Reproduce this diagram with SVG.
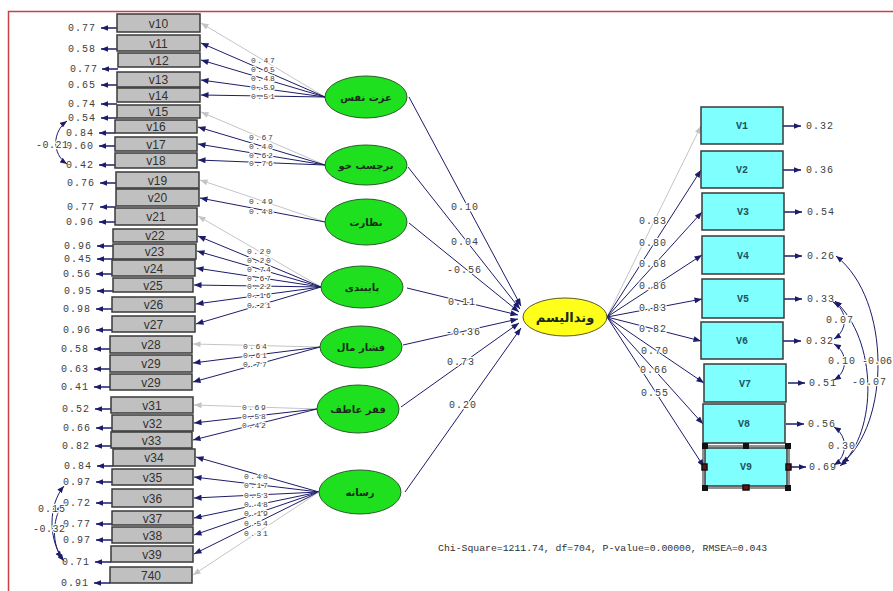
<svg xmlns="http://www.w3.org/2000/svg" width="893" height="591" viewBox="0 0 893 591">
<style>
.bg{fill:#fff}
.frame{stroke:#c8404a;stroke-width:1.5;fill:none}
.box{fill:#c0c0c0;stroke:#3a3a3a;stroke-width:1.5}
.vbox{fill:#80ffff;stroke:#3a3a3a;stroke-width:1.5}
.lat{fill:#1fe01f;stroke:#2d5a2d;stroke-width:1}
.dep{fill:#ffff1a;stroke:#5a5a20;stroke-width:1}
.bt{font-family:"Liberation Sans",Arial,sans-serif;font-size:12px;fill:#303030;text-anchor:middle}
.vt{font-family:"Liberation Mono","Courier New",monospace;font-size:10px;font-weight:bold;fill:#1f5560;text-anchor:middle}
.lt{font-family:"DejaVu Sans","Noto Sans",sans-serif;font-size:10px;font-weight:bold;fill:#1a2a1a;text-anchor:middle}
.num{font-family:"Liberation Mono","Courier New",monospace;font-size:10px;letter-spacing:1px;fill:#404040}
.sm{font-size:8px;letter-spacing:1.5px}
.halo{paint-order:stroke;stroke:#fff;stroke-width:2.5px;stroke-linejoin:round}
.ln{stroke:#1c1c6a;stroke-width:1;fill:none;marker-end:url(#ah)}
.gl{stroke:#c4c4c4;stroke-width:1;fill:none;marker-end:url(#ahg)}
.er{stroke:#1c1c6a;stroke-width:1.5;fill:none;marker-end:url(#ahs)}
.cv{stroke:#1c1c6a;stroke-width:1;fill:none;marker-start:url(#ahs2);marker-end:url(#ahs)}
.fit{font-family:"Liberation Mono","Courier New",monospace;font-size:9.8px;fill:#303030}
.hd{fill:#111}
.hdr{fill:#6a1010;stroke:#111;stroke-width:1.5}
</style>
<defs>
<marker id="ah" viewBox="0 0 10 8" refX="10" refY="4" markerWidth="9" markerHeight="6" markerUnits="userSpaceOnUse" orient="auto"><path d="M0,0 L10,4 L0,8 z" fill="#1c1c6a"/></marker>
<marker id="ahg" viewBox="0 0 10 8" refX="10" refY="4" markerWidth="9" markerHeight="6" markerUnits="userSpaceOnUse" orient="auto"><path d="M0,0 L10,4 L0,8 z" fill="#c4c4c4"/></marker>
<marker id="ahs" viewBox="0 0 10 8" refX="10" refY="4" markerWidth="7" markerHeight="6" markerUnits="userSpaceOnUse" orient="auto"><path d="M0,0 L10,4 L0,8 z" fill="#1c1c6a"/></marker>
<marker id="ahs2" viewBox="0 0 10 8" refX="0" refY="4" markerWidth="7" markerHeight="6" markerUnits="userSpaceOnUse" orient="auto"><path d="M10,0 L0,4 L10,8 z" fill="#1c1c6a"/></marker>
</defs>
<rect class="bg" x="0" y="0" width="893" height="591"/>
<path class="frame" d="M8.5,591 V11.5 H893"/>

<g id="connectors">
<line class="gl" x1="325" y1="97" x2="201" y2="23"/>
<line class="ln" x1="325" y1="97" x2="201" y2="43"/>
<line class="ln" x1="325" y1="97" x2="201" y2="60"/>
<line class="ln" x1="325" y1="97" x2="201" y2="80"/>
<line class="ln" x1="325" y1="97" x2="201" y2="95"/>
<line class="gl" x1="325" y1="165" x2="201" y2="112"/>
<line class="ln" x1="325" y1="165" x2="198" y2="127"/>
<line class="ln" x1="325" y1="165" x2="198" y2="144"/>
<line class="ln" x1="325" y1="165" x2="198" y2="160"/>
<line class="gl" x1="325" y1="222" x2="200" y2="180"/>
<line class="ln" x1="325" y1="222" x2="200" y2="198"/>
<line class="gl" x1="321" y1="287" x2="198" y2="216"/>
<line class="ln" x1="321" y1="287" x2="198" y2="236"/>
<line class="ln" x1="321" y1="287" x2="197" y2="251"/>
<line class="ln" x1="321" y1="287" x2="196" y2="268"/>
<line class="ln" x1="321" y1="287" x2="194" y2="285"/>
<line class="ln" x1="321" y1="287" x2="196" y2="304"/>
<line class="ln" x1="321" y1="287" x2="196" y2="324"/>
<line class="gl" x1="320" y1="347" x2="193" y2="344"/>
<line class="ln" x1="320" y1="347" x2="193" y2="363"/>
<line class="ln" x1="320" y1="347" x2="193" y2="382"/>
<line class="gl" x1="317" y1="409" x2="194" y2="405"/>
<line class="ln" x1="317" y1="409" x2="194" y2="423"/>
<line class="ln" x1="317" y1="409" x2="193" y2="440"/>
<line class="ln" x1="319" y1="492" x2="196" y2="457"/>
<line class="ln" x1="319" y1="492" x2="194" y2="477"/>
<line class="ln" x1="319" y1="492" x2="194" y2="498"/>
<line class="ln" x1="319" y1="492" x2="194" y2="518"/>
<line class="ln" x1="319" y1="492" x2="194" y2="535"/>
<line class="ln" x1="319" y1="492" x2="194" y2="554"/>
<line class="gl" x1="319" y1="492" x2="193" y2="575"/>
<line class="ln" x1="409" y1="97" x2="521" y2="306"/>
<line class="ln" x1="408" y1="167" x2="520" y2="309"/>
<line class="ln" x1="409" y1="223" x2="519" y2="312"/>
<line class="ln" x1="407" y1="288" x2="518" y2="315"/>
<line class="ln" x1="403" y1="345" x2="518" y2="319"/>
<line class="ln" x1="401" y1="407" x2="519" y2="323"/>
<line class="ln" x1="405" y1="492" x2="521" y2="328"/>
<line class="gl" x1="607" y1="317" x2="701" y2="126"/>
<line class="ln" x1="607" y1="317" x2="701" y2="170"/>
<line class="ln" x1="607" y1="317" x2="702" y2="212"/>
<line class="ln" x1="607" y1="317" x2="702" y2="255"/>
<line class="ln" x1="607" y1="317" x2="702" y2="299"/>
<line class="ln" x1="607" y1="317" x2="701" y2="341"/>
<line class="ln" x1="607" y1="317" x2="704" y2="383"/>
<line class="ln" x1="607" y1="317" x2="703" y2="424"/>
<line class="ln" x1="607" y1="317" x2="704" y2="467"/>
<line class="er" x1="117" y1="28" x2="101" y2="28"/>
<line class="er" x1="117" y1="49" x2="101" y2="49"/>
<line class="er" x1="118" y1="69" x2="102" y2="69"/>
<line class="er" x1="117" y1="85" x2="101" y2="85"/>
<line class="er" x1="117" y1="104" x2="101" y2="104"/>
<line class="er" x1="117" y1="118" x2="101" y2="118"/>
<line class="er" x1="115" y1="133" x2="99" y2="133"/>
<line class="er" x1="115" y1="146" x2="99" y2="146"/>
<line class="er" x1="115" y1="165" x2="99" y2="165"/>
<line class="er" x1="116" y1="183" x2="100" y2="183"/>
<line class="er" x1="116" y1="207" x2="100" y2="207"/>
<line class="er" x1="115" y1="222" x2="99" y2="222"/>
<line class="er" x1="113" y1="246" x2="97" y2="246"/>
<line class="er" x1="113" y1="259" x2="97" y2="259"/>
<line class="er" x1="112" y1="274" x2="96" y2="274"/>
<line class="er" x1="113" y1="291" x2="97" y2="291"/>
<line class="er" x1="112" y1="309" x2="96" y2="309"/>
<line class="er" x1="112" y1="330" x2="96" y2="330"/>
<line class="er" x1="110" y1="349" x2="94" y2="349"/>
<line class="er" x1="110" y1="369" x2="94" y2="369"/>
<line class="er" x1="110" y1="387" x2="94" y2="387"/>
<line class="er" x1="111" y1="409" x2="95" y2="409"/>
<line class="er" x1="112" y1="428" x2="96" y2="428"/>
<line class="er" x1="111" y1="446" x2="95" y2="446"/>
<line class="er" x1="113" y1="466" x2="97" y2="466"/>
<line class="er" x1="112" y1="482" x2="96" y2="482"/>
<line class="er" x1="112" y1="503" x2="96" y2="503"/>
<line class="er" x1="112" y1="524" x2="96" y2="524"/>
<line class="er" x1="112" y1="540" x2="96" y2="540"/>
<line class="er" x1="111" y1="562" x2="95" y2="562"/>
<line class="er" x1="110" y1="583" x2="94" y2="583"/>
<line class="er" x1="783" y1="126" x2="801" y2="126"/>
<line class="er" x1="783" y1="170" x2="801" y2="170"/>
<line class="er" x1="784" y1="212" x2="802" y2="212"/>
<line class="er" x1="784" y1="256" x2="802" y2="256"/>
<line class="er" x1="784" y1="299" x2="802" y2="299"/>
<line class="er" x1="783" y1="341" x2="801" y2="341"/>
<line class="er" x1="788" y1="383" x2="805" y2="383"/>
<line class="er" x1="786" y1="424" x2="804" y2="424"/>
<line class="er" x1="789" y1="467" x2="806" y2="467"/>
<path class="cv" d="M67,121 C52,132 52,154 67,164"/>
<path class="cv" d="M64,486 C48,505 48,540 64,561"/>
<path class="cv" d="M62,505 C52,520 52,545 62,558"/>
<path class="cv" d="M833,302 C848,310 848,330 834,339"/>
<path class="cv" d="M834,344 C848,352 848,372 834,380"/>
<path class="cv" d="M834,427 C848,436 848,456 834,465"/>
<path class="cv" d="M836,256 C892,300 890,425 842,463"/>
<path class="cv" d="M835,301 C878,340 878,432 840,466"/>
</g>

<g id="labels">
<text class="num sm halo" x="251" y="63">0.47</text>
<text class="num sm halo" x="251" y="72">0.65</text>
<text class="num sm halo" x="251" y="81">0.48</text>
<text class="num sm halo" x="251" y="90">0.59</text>
<text class="num sm halo" x="251" y="99">0.51</text>
<text class="num sm halo" x="249" y="140">0.67</text>
<text class="num sm halo" x="249" y="148.5">0.40</text>
<text class="num sm halo" x="249" y="157.5">0.62</text>
<text class="num sm halo" x="249" y="166">0.76</text>
<text class="num sm halo" x="249" y="204">0.49</text>
<text class="num sm halo" x="249" y="214">0.48</text>
<text class="num sm halo" x="247" y="254">0.20</text>
<text class="num sm halo" x="247" y="263">0.20</text>
<text class="num sm halo" x="247" y="271.5">0.74</text>
<text class="num sm halo" x="247" y="280.5">0.67</text>
<text class="num sm halo" x="247" y="289">0.22</text>
<text class="num sm halo" x="247" y="298">0.16</text>
<text class="num sm halo" x="247" y="308">0.21</text>
<text class="num sm halo" x="243" y="349">0.64</text>
<text class="num sm halo" x="243" y="358">0.61</text>
<text class="num sm halo" x="243" y="367">0.77</text>
<text class="num sm halo" x="242" y="410">0.69</text>
<text class="num sm halo" x="242" y="419">0.58</text>
<text class="num sm halo" x="242" y="428">0.42</text>
<text class="num sm halo" x="244" y="479">0.40</text>
<text class="num sm halo" x="244" y="488">0.17</text>
<text class="num sm halo" x="244" y="498">0.53</text>
<text class="num sm halo" x="244" y="507">0.48</text>
<text class="num sm halo" x="244" y="516">0.19</text>
<text class="num sm halo" x="244" y="526">0.54</text>
<text class="num sm halo" x="244" y="536">0.31</text>
<text class="num halo" x="451" y="210">0.10</text>
<text class="num halo" x="451" y="245">0.04</text>
<text class="num halo" x="447" y="273">-0.56</text>
<text class="num halo" x="448" y="305">0.11</text>
<text class="num halo" x="446" y="335">-0.36</text>
<text class="num halo" x="447" y="365">0.73</text>
<text class="num halo" x="449" y="408">0.20</text>
<text class="num halo" x="639" y="224">0.83</text>
<text class="num halo" x="639" y="246">0.80</text>
<text class="num halo" x="639" y="267">0.68</text>
<text class="num halo" x="639" y="289">0.86</text>
<text class="num halo" x="639" y="311">0.83</text>
<text class="num halo" x="639" y="332">0.82</text>
<text class="num halo" x="641" y="354">0.70</text>
<text class="num halo" x="640" y="373">0.66</text>
<text class="num halo" x="641" y="396">0.55</text>
<g class="num" text-anchor="end">
<text x="96" y="31">0.77</text>
<text x="96" y="52">0.58</text>
<text x="98" y="72">0.77</text>
<text x="96" y="88">0.65</text>
<text x="96" y="107">0.74</text>
<text x="96" y="121">0.54</text>
<text x="94" y="136">0.84</text>
<text x="94" y="149">0.60</text>
<text x="94" y="168">0.42</text>
<text x="95" y="186">0.76</text>
<text x="95" y="210">0.77</text>
<text x="94" y="225">0.96</text>
<text x="92" y="249">0.96</text>
<text x="92" y="262">0.45</text>
<text x="91" y="277">0.56</text>
<text x="92" y="294">0.95</text>
<text x="91" y="312">0.98</text>
<text x="91" y="333">0.96</text>
<text x="89" y="352">0.58</text>
<text x="89" y="372">0.63</text>
<text x="89" y="390">0.41</text>
<text x="90" y="412">0.52</text>
<text x="91" y="431">0.66</text>
<text x="90" y="449">0.82</text>
<text x="92" y="469">0.84</text>
<text x="91" y="485">0.97</text>
<text x="91" y="506">0.72</text>
<text x="91" y="527">0.77</text>
<text x="91" y="543">0.97</text>
<text x="90" y="565">0.71</text>
<text x="89" y="586">0.91</text>
</g>
<g class="num">
<text x="806" y="129">0.32</text>
<text x="806" y="173">0.36</text>
<text x="807" y="215">0.54</text>
<text x="807" y="259">0.26</text>
<text x="807" y="302">0.33</text>
<text x="806" y="344">0.32</text>
<text x="809" y="386">0.51</text>
<text x="808" y="427">0.56</text>
<text x="809" y="470">0.69</text>
</g>
<text class="num halo" x="36" y="148" style="letter-spacing:0.5px">-0.21</text>
<text class="num halo" x="38" y="512">0.15</text>
<text class="num halo" x="33" y="532" style="letter-spacing:0.5px">-0.32</text>
<text class="num halo" x="826" y="323">0.07</text>
<text class="num halo" x="828" y="364">0.10</text>
<text class="num halo" x="862" y="364" style="letter-spacing:0">-0.06</text>
<text class="num halo" x="852" y="385">-0.07</text>
<text class="num halo" x="828" y="449">0.30</text>
<text class="fit" x="438" y="551">Chi-Square=1211.74, df=704, P-value=0.00000, RMSEA=0.043</text>
</g>

<g id="v10"><rect class="box" x="117" y="14" width="83" height="18"/><text class="bt" x="158.5" y="27.5">v10</text></g>
<g id="v11"><rect class="box" x="117" y="35" width="83" height="16"/><text class="bt" x="158.5" y="47.5">v11</text></g>
<g id="v12"><rect class="box" x="118" y="53" width="82" height="14"/><text class="bt" x="159" y="64.5">v12</text></g>
<g id="v13"><rect class="box" x="117" y="72" width="83" height="15"/><text class="bt" x="158.5" y="84">v13</text></g>
<g id="v14"><rect class="box" x="117" y="88" width="83" height="14"/><text class="bt" x="158.5" y="99.5">v14</text></g>
<g id="v15"><rect class="box" x="117" y="105" width="83" height="13"/><text class="bt" x="158.5" y="116">v15</text></g>
<g id="v16"><rect class="box" x="115" y="120" width="82" height="13"/><text class="bt" x="156" y="131">v16</text></g>
<g id="v17"><rect class="box" x="115" y="137" width="82" height="14"/><text class="bt" x="156" y="148.5">v17</text></g>
<g id="v18"><rect class="box" x="115" y="153" width="82" height="15"/><text class="bt" x="156" y="165">v18</text></g>
<g id="v19"><rect class="box" x="116" y="172" width="83" height="16"/><text class="bt" x="157.5" y="184.5">v19</text></g>
<g id="v20"><rect class="box" x="116" y="189" width="83" height="17"/><text class="bt" x="157.5" y="202">v20</text></g>
<g id="v21"><rect class="box" x="115" y="208" width="82" height="17"/><text class="bt" x="156" y="221">v21</text></g>
<g id="v22"><rect class="box" x="113" y="229" width="84" height="13"/><text class="bt" x="155" y="240">v22</text></g>
<g id="v23"><rect class="box" x="113" y="244" width="83" height="15"/><text class="bt" x="154.5" y="256">v23</text></g>
<g id="v24"><rect class="box" x="112" y="260" width="83" height="16"/><text class="bt" x="153.5" y="272.5">v24</text></g>
<g id="v25"><rect class="box" x="113" y="278" width="80" height="14"/><text class="bt" x="153" y="289.5">v25</text></g>
<g id="v26"><rect class="box" x="112" y="297" width="83" height="15"/><text class="bt" x="153.5" y="309">v26</text></g>
<g id="v27"><rect class="box" x="112" y="316" width="83" height="16"/><text class="bt" x="153.5" y="328.5">v27</text></g>
<g id="v28"><rect class="box" x="110" y="336" width="82" height="17"/><text class="bt" x="151" y="349">v28</text></g>
<g id="v29"><rect class="box" x="110" y="355" width="82" height="17"/><text class="bt" x="151" y="368">v29</text></g>
<g id="v29b"><rect class="box" x="110" y="374" width="82" height="16"/><text class="bt" x="151" y="386.5">v29</text></g>
<g id="v31"><rect class="box" x="111" y="397" width="82" height="16"/><text class="bt" x="152" y="409.5">v31</text></g>
<g id="v32"><rect class="box" x="112" y="415" width="81" height="16"/><text class="bt" x="152.5" y="427.5">v32</text></g>
<g id="v33"><rect class="box" x="111" y="432" width="81" height="16"/><text class="bt" x="151.5" y="444.5">v33</text></g>
<g id="v34"><rect class="box" x="113" y="449" width="82" height="17"/><text class="bt" x="154" y="462">v34</text></g>
<g id="v35"><rect class="box" x="112" y="469" width="81" height="16"/><text class="bt" x="152.5" y="481.5">v35</text></g>
<g id="v36"><rect class="box" x="112" y="489" width="81" height="18"/><text class="bt" x="152.5" y="502.5">v36</text></g>
<g id="v37"><rect class="box" x="112" y="511" width="81" height="14"/><text class="bt" x="152.5" y="522.5">v37</text></g>
<g id="v38"><rect class="box" x="112" y="527" width="81" height="16"/><text class="bt" x="152.5" y="539.5">v38</text></g>
<g id="v39"><rect class="box" x="111" y="546" width="82" height="16"/><text class="bt" x="152" y="558.5">v39</text></g>
<g id="v740"><rect class="box" x="110" y="567" width="82" height="16"/><text class="bt" x="151" y="579.5">740</text></g>

<g id="L1"><ellipse class="lat" cx="366" cy="97" rx="41" ry="21"/><text class="lt" x="366" y="101">عزت نفس</text></g>
<g id="L2"><ellipse class="lat" cx="366" cy="165" rx="41" ry="20"/><text class="lt" x="366" y="169">برچسب خو</text></g>
<g id="L3"><ellipse class="lat" cx="366" cy="222" rx="41" ry="23"/><text class="lt" x="366" y="226">نظارت</text></g>
<g id="L4"><ellipse class="lat" cx="362" cy="287" rx="41" ry="21"/><text class="lt" x="362" y="291">پایبندی</text></g>
<g id="L5"><ellipse class="lat" cx="361" cy="347" rx="41" ry="21"/><text class="lt" x="361" y="351">فشار مال</text></g>
<g id="L6"><ellipse class="lat" cx="358" cy="409" rx="41" ry="24"/><text class="lt" x="358" y="413">فقر عاطف</text></g>
<g id="L7"><ellipse class="lat" cx="360" cy="492" rx="41" ry="22"/><text class="lt" x="360" y="496">رسانه</text></g>
<g id="D"><ellipse class="dep" cx="565" cy="317" rx="42" ry="19"/><text class="lt" x="565" y="322" style="font-size:13px">وندالیسم</text></g>

<g id="V1"><rect class="vbox" x="701" y="107" width="82" height="37"/><text class="vt" x="742" y="129">V1</text></g>
<g id="V2"><rect class="vbox" x="701" y="151" width="82" height="37"/><text class="vt" x="742" y="173">V2</text></g>
<g id="V3"><rect class="vbox" x="702" y="193" width="82" height="37"/><text class="vt" x="743" y="215">V3</text></g>
<g id="V4"><rect class="vbox" x="702" y="236" width="82" height="38"/><text class="vt" x="743" y="259">V4</text></g>
<g id="V5"><rect class="vbox" x="702" y="279" width="82" height="39"/><text class="vt" x="743" y="302">V5</text></g>
<g id="V6"><rect class="vbox" x="701" y="322" width="82" height="37"/><text class="vt" x="742" y="344">V6</text></g>
<g id="V7"><rect class="vbox" x="704" y="364" width="82" height="38"/><text class="vt" x="745" y="387">V7</text></g>
<g id="V8"><rect class="vbox" x="703" y="404" width="82" height="39"/><text class="vt" x="744" y="427">V8</text></g>
<g id="V9"><rect class="vbox" x="705" y="448" width="82" height="38"/><text class="vt" x="746" y="470">V9</text>
<rect x="703" y="446" width="86" height="42" fill="none" stroke="#222" stroke-width="1"/>
<rect class="hd" x="702" y="443" width="6" height="6"/><rect class="hd" x="743" y="443" width="6" height="6"/><rect class="hd" x="785" y="443" width="6" height="6"/>
<rect class="hdr" x="702" y="464" width="5" height="6"/><rect class="hdr" x="786" y="464" width="5" height="6"/>
<rect class="hd" x="702" y="485" width="6" height="6"/><rect class="hdr" x="743" y="485" width="6" height="5"/><rect class="hd" x="785" y="485" width="6" height="6"/>
</g>
</svg>
